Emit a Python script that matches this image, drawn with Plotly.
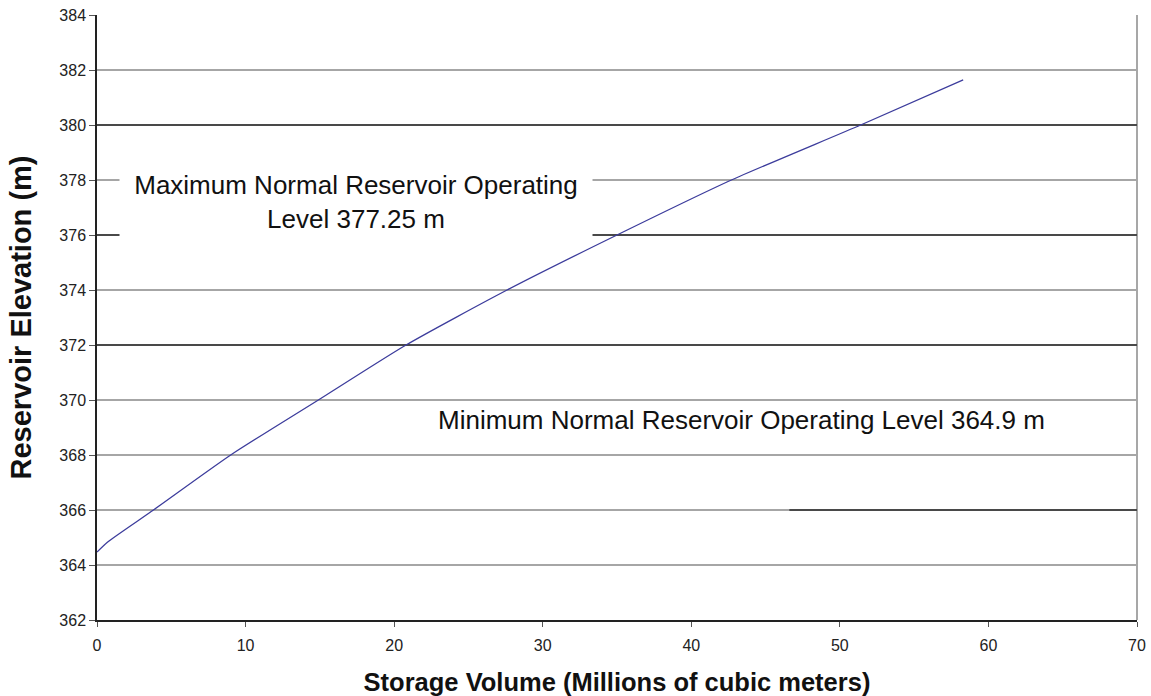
import plotly.graph_objects as go

# Storage-elevation curve
storage = [0.0, 0.7, 3.8, 9.0, 14.9, 20.8, 27.6, 35.0, 42.7, 51.4, 58.3]
elevation = [364.47, 364.83, 366.0, 368.0, 370.0, 372.0, 374.0, 376.0, 378.0, 380.0, 381.64]

x_ticks = [0, 10, 20, 30, 40, 50, 60, 70]
y_ticks = [362, 364, 366, 368, 370, 372, 374, 376, 378, 380, 382, 384]

# gridlines printed darker in the original (level, start x)
dark_levels = [380, 376, 372, 366]
dark_starts = [0, 0, 0, 46.6]

max_label = "Maximum Normal Reservoir Operating<br>Level 377.25 m"
min_label = "Minimum Normal Reservoir Operating Level 364.9 m"

FONT = "Liberation Sans, Arial, sans-serif"

fig = go.Figure()
fig.add_trace(go.Scatter(
    x=storage, y=elevation, mode="lines",
    line=dict(color="#3c3c9c", width=1.3, shape="spline", smoothing=0.6),
    showlegend=False, hoverinfo="x+y"))

for lvl, x0 in zip(dark_levels, dark_starts):
    fig.add_shape(type="line", xref="x", yref="y", x0=x0, x1=70, y0=lvl, y1=lvl,
                  line=dict(color="#2a2a2a", width=1.5), layer="between")

fig.add_annotation(x=17.4, y=377.2, xref="x", yref="y", text=max_label,
                   showarrow=False, font=dict(family=FONT, size=26, color="#111"),
                   bgcolor="white", width=468, height=72, borderpad=2, align="center")
fig.add_annotation(x=43.4, y=369.27, xref="x", yref="y", text=min_label,
                   showarrow=False, font=dict(family=FONT, size=26, color="#111"),
                   align="center")

fig.update_layout(
    width=1151, height=696,
    margin=dict(l=97, r=14, t=15, b=76),
    paper_bgcolor="white", plot_bgcolor="white",
    font=dict(family=FONT, color="#222"),
    xaxis=dict(range=[0, 70], tickvals=x_ticks, ticks="outside", ticklen=5,
               tickcolor="#555", showgrid=False, zeroline=False, automargin=False,
               showline=True, linecolor="#222", linewidth=1.5, mirror=False,
               tickfont=dict(size=16), ticklabelstandoff=5, ticklabeloverflow="allow",
               title=dict(text="<b>Storage Volume (Millions of cubic meters)</b>",
                          font=dict(size=25.5, color="#111"), standoff=20)),
    yaxis=dict(range=[362, 384], tickvals=y_ticks, ticks="outside", ticklen=6,
               tickcolor="#555", showgrid=True, gridcolor="#a6a6a6", gridwidth=1.5,
               zeroline=False, showline=True, linecolor="#222", linewidth=1.5,
               automargin=False, tickfont=dict(size=16), ticklabelstandoff=0,
               ticklabeloverflow="allow",
               title=dict(text="<b>Reservoir Elevation (m)</b>",
                          font=dict(size=29, color="#111"), standoff=19)),
)
# right border
fig.add_shape(type="line", xref="paper", yref="paper", x0=1, x1=1, y0=0, y1=1,
              line=dict(color="#8a8a8a", width=1.5), layer="between")

# remove the default page margin so the figure fills the window exactly
fig.write_html("out.html", config={"displayModeBar": False},
               post_script="document.body.style.margin='0';document.body.style.overflow='hidden';")
